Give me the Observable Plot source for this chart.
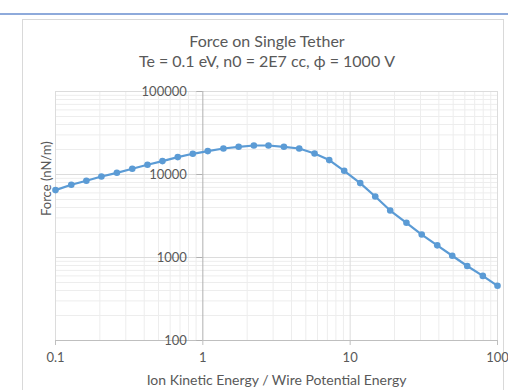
<!DOCTYPE html>
<html>
<head>
<meta charset="utf-8">
<script src="https://cdn.jsdelivr.net/npm/d3@7"></script>
<script src="https://cdn.jsdelivr.net/npm/@observablehq/plot@0.6"></script>
<style>
  html, body { margin: 0; padding: 0; background: #fff; width: 508px; height: 390px; overflow: hidden; }
  #wrap { position: relative; width: 508px; height: 390px; font-family: Lato, "Open Sans", sans-serif; }
  .topline { position: absolute; left: 0; top: 13px; width: 508px; height: 2px; background: #8eaadb; }
  .frame { position: absolute; left: 22px; top: 19px; width: 482px; height: 400px; border: 1px solid #d9d9d9; box-sizing: border-box; }
  .title { position: absolute; left: 0; width: 534px; text-align: center; color: #595959; font-size: 16px; white-space: nowrap; line-height: 1; }
  #chart { position: absolute; left: 0; top: 0; }
  #chart svg { background: transparent; }
</style>
</head>
<body>
<div id="wrap">
  <div class="topline"></div>
  <div class="frame"></div>
  <div class="title" style="top:33px;">Force on Single Tether</div>
  <div class="title" style="top:53px;">Te = 0.1 eV, n0 = 2E7 cc, ϕ = 1000 V</div>
  <div id="chart"></div>
</div>
<script>
// Data
const energyRatio = [0.1, 0.128, 0.162, 0.205, 0.261, 0.332, 0.421, 0.532, 0.676, 0.855,
  1.08, 1.38, 1.75, 2.22, 2.79, 3.55, 4.51, 5.73, 7.21, 9.11,
  11.7, 14.8, 18.7, 24.1, 30.6, 39.0, 49.3, 62.3, 79.5, 100];
const forceNN = [6490, 7520, 8400, 9460, 10480, 11720, 13090, 14500, 16210, 17760,
  19140, 20570, 21570, 22350, 22350, 21570, 20570, 17910, 14910, 11080,
  7880, 5430, 3680, 2620, 1890, 1400, 1050, 790, 600, 456];
const xTicks = [0.1, 1, 10, 100];
const xTickLabels = ["0.1", "1", "10", "100"];
const yTicks = [100, 1000, 10000, 100000];
const yTickLabels = ["100", "1000", "10000", "100000"];
const xLabel = "Ion Kinetic Energy / Wire Potential Energy";
const yLabel = "Force (nN/m)";

const data = energyRatio.map((x, i) => ({x, y: forceNN[i]}));

// minor gridline positions (2..9 in each decade)
const minorX = [], minorY = [];
for (let d = 0.1; d < 100; d *= 10) for (let k = 2; k <= 9; k++) minorX.push(+(d * k).toPrecision(3));
for (let d = 100; d < 100000; d *= 10) for (let k = 2; k <= 9; k++) minorY.push(d * k);

const textColor = "#595959";
const blue = "#5b9bd5";

const chart = Plot.plot({
  width: 508,
  height: 390,
  marginLeft: 55,
  marginRight: 11,
  marginTop: 91,
  marginBottom: 50,
  style: {background: "transparent", fontFamily: "Lato, 'Open Sans', sans-serif"},
  x: {type: "log", domain: [0.1, 100], axis: null},
  y: {type: "log", domain: [100, 100000], axis: null},
  marks: [
    Plot.ruleX(minorX, {stroke: "#ededed"}),
    Plot.ruleY(minorY, {stroke: "#ededed"}),
    Plot.ruleX([0.1, 10, 100], {stroke: "#dcdcdc"}),
    Plot.ruleY(yTicks.slice(1), {stroke: "#dcdcdc"}),
    Plot.ruleY([100], {stroke: "#bfbfbf"}),
    Plot.ruleX([1], {stroke: "#b0b0b0"}),
    Plot.ruleY(yTicks, {x1: () => 1, x2: () => 0.91, stroke: "#b0b0b0"}),
    Plot.ruleX(xTicks, {y1: () => 100, y2: () => 87, stroke: "#bfbfbf"}),
    Plot.text(yTicks, {x: () => 1, y: d => d, text: (d, i) => yTickLabels[i], dx: -16, textAnchor: "end", fill: textColor, fontSize: 13}),
    Plot.text(xTicks, {x: d => d, frameAnchor: "bottom", text: (d, i) => xTickLabels[i], dy: 21, fill: textColor, fontSize: 13}),
    Plot.text([xLabel], {frameAnchor: "bottom", dy: 44, fill: textColor, fontSize: 14}),
    Plot.text([yLabel], {frameAnchor: "left", rotate: -90, dx: -9, fill: textColor, fontSize: 13}),
    Plot.line(data, {x: "x", y: "y", stroke: blue, strokeWidth: 2.2}),
    Plot.dot(data, {x: "x", y: "y", fill: blue, r: 3.3})
  ]
});
document.getElementById("chart").appendChild(chart);
</script>
</body>
</html>
